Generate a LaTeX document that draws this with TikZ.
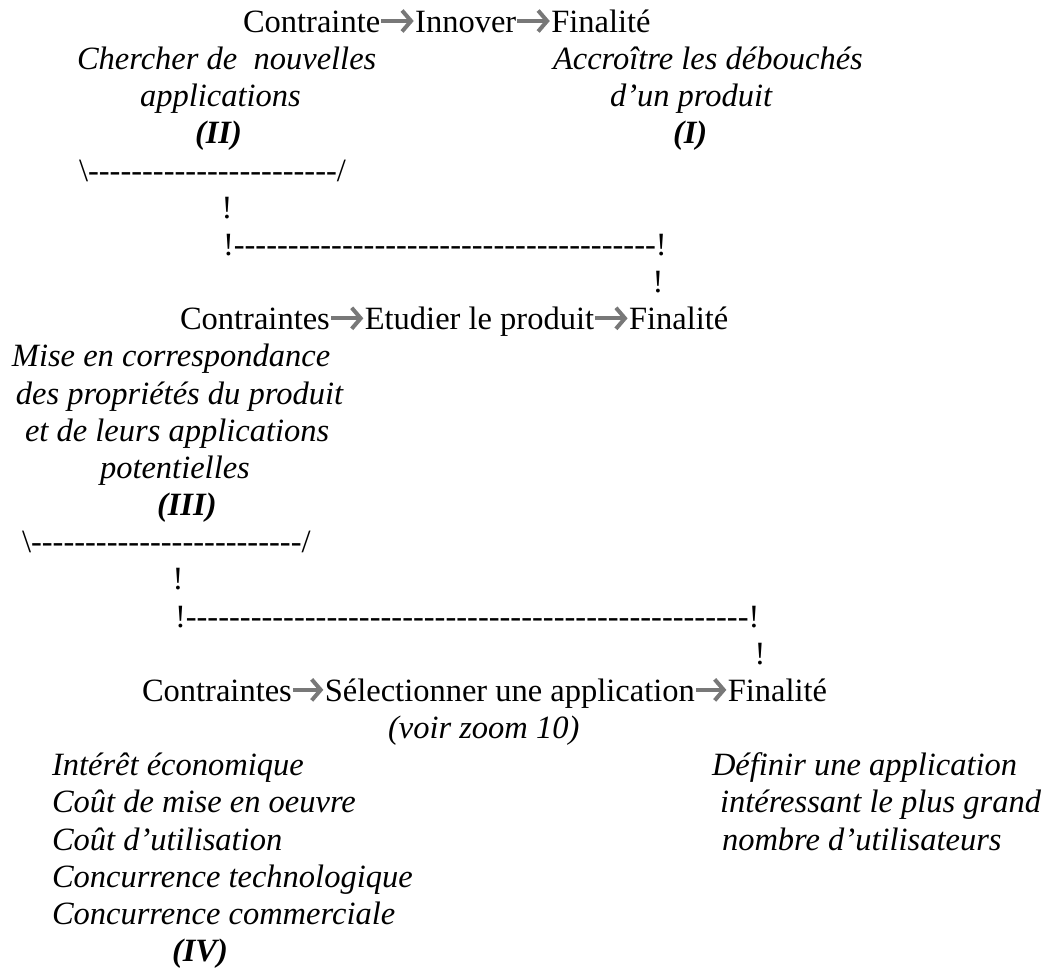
\documentclass[tikz,border=0pt]{standalone}
\usepackage{fontspec}
\setmainfont{Liberation Serif}
\newfontfamily\dashfont{Liberation Serif}
\usetikzlibrary{arrows.meta}
\definecolor{arrowgray}{RGB}{120,120,120}
\tikzset{
  txt/.style={inner sep=0pt, outer sep=0pt, anchor=base west, font=\fontsize{32.5}{37}\selectfont},
  itx/.style={txt, font=\fontsize{32.5}{37}\selectfont\itshape},
  lab/.style={txt, font=\fontsize{32.5}{37}\selectfont\itshape\bfseries},
  dsh/.style={txt, font=\fontsize{32.5}{37}\dashfont},
  bang/.style={inner sep=0pt, outer sep=0pt, anchor=base, font=\fontsize{32.5}{37}\selectfont},
  flow/.style={draw=arrowgray, line width=3.8pt, shorten <=1pt, shorten >=1.5pt, -{Straight Barb[length=9pt,width=21pt,line width=4pt]}},
}
\begin{document}
\begin{tikzpicture}[x=1pt,y=-1pt]
\useasboundingbox (0,0) rectangle (1045,969);
% line 0
\node[txt] (c1) at (243,32.5) {Contrainte};
\node[txt] (i1) at ([xshift=35pt]c1.base east) {Innover};
\node[txt] (f1) at ([xshift=35pt]i1.base east) {Finalité};
\draw[flow] ([yshift=11.5pt]c1.base east) -- ([yshift=11.5pt]i1.base west);
\draw[flow] ([yshift=11.5pt]i1.base east) -- ([yshift=11.5pt]f1.base west);
% lines 1-3
\node[itx] (a1) at (77,69.66) {Chercher de\ \ nouvelles};
\node[itx] (a2) at (140,106.82) {applications};
\node[lab] (a3) at (195,143.98) {(II)};
\node[itx] (b1) at (553,69.66) {Accroître les débouchés};
\node[itx] (b2) at (610,106.82) {d’un produit};
\node[lab] (b3) at (673,143.98) {(I)};
% lines 4-7
\node[dsh] (k1) at (79,181.14) {\textbackslash-----------------------/};
\node[bang] (e1) at (227,218.3) {!};
\node[dsh] (k2) at (223,255.46) {!---------------------------------------!};
\node[bang] (e2) at (658,292.62) {!};
% line 8
\node[txt] (c2) at (180,329.78) {Contraintes};
\node[txt] (i2) at ([xshift=35pt]c2.base east) {Etudier le produit};
\node[txt] (f2) at ([xshift=35pt]i2.base east) {Finalité};
\draw[flow] ([yshift=11.5pt]c2.base east) -- ([yshift=11.5pt]i2.base west);
\draw[flow] ([yshift=11.5pt]i2.base east) -- ([yshift=11.5pt]f2.base west);
% lines 9-13
\node[itx] (m1) at (12,366.94) {Mise en correspondance};
\node[itx] (m2) at (16,404.1) {des propriétés du produit};
\node[itx] (m3) at (25,441.26) {et de leurs applications};
\node[itx] (m4) at (100,478.42) {potentielles};
\node[lab] (m5) at (157,515.58) {(III)};
% lines 14-17
\node[dsh] (k3) at (22,552.74) {\textbackslash-------------------------/};
\node[bang] (e3) at (178,589.9) {!};
\node[dsh] (k4) at (175,627.06) {!----------------------------------------------------!};
\node[bang] (e4) at (760,664.22) {!};
% line 18
\node[txt] (c3) at (142,701.38) {Contraintes};
\node[txt] (i3) at ([xshift=33pt]c3.base east) {Sélectionner une application};
\node[txt] (f3) at ([xshift=33pt]i3.base east) {Finalité};
\draw[flow] ([yshift=11.5pt]c3.base east) -- ([yshift=11.5pt]i3.base west);
\draw[flow] ([yshift=11.5pt]i3.base east) -- ([yshift=11.5pt]f3.base west);
\node[itx] (v) at (388,738.54) {(voir zoom 10)};
% lines 20-25
\node[itx] (p1) at (52,775.7) {Intérêt économique};
\node[itx] (p2) at (52,812.86) {Coût de mise en oeuvre};
\node[itx] (p3) at (52,850.02) {Coût d’utilisation};
\node[itx] (p4) at (52,887.18) {Concurrence technologique};
\node[itx] (p5) at (52,924.34) {Concurrence commerciale};
\node[lab] (p6) at (172,961.5) {(IV)};
\node[itx] (d1) at (712,775.7) {Définir une application};
\node[itx] (d2) at (720,812.86) {intéressant le plus grand};
\node[itx] (d3) at (722,850.02) {nombre d’utilisateurs};
\end{tikzpicture}
\end{document}
